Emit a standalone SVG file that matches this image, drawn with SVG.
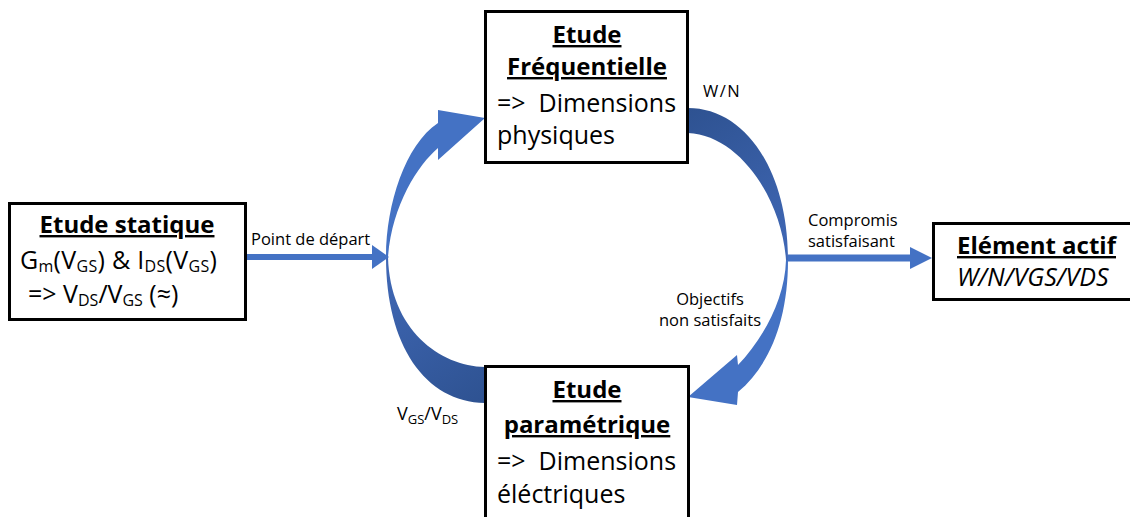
<svg xmlns="http://www.w3.org/2000/svg" width="1130" height="517" viewBox="0 0 1130 517">
<style>
.box{fill:#fff;stroke:#000;stroke-width:3}
.t{font-family:"Open Sans",Lato,"Liberation Sans",sans-serif;fill:#000}
.big{font-size:25px}
.b{font-size:24px;font-weight:bold;text-decoration:underline}
.lbl{font-size:16.5px}
.sub{font-size:16px}
.arr{fill:#4472C4}
</style>
<defs>
<linearGradient id="gL" gradientUnits="userSpaceOnUse" x1="386" y1="257" x2="485" y2="403">
<stop offset="0" stop-color="#4068B6"/><stop offset="1" stop-color="#2E5291"/>
</linearGradient>
<linearGradient id="gR" gradientUnits="userSpaceOnUse" x1="788" y1="260" x2="688" y2="108">
<stop offset="0" stop-color="#4068B6"/><stop offset="1" stop-color="#2E5291"/>
</linearGradient>
</defs>
<g id="connectors">
<path d="M386,257 C386,345 425,402 485,403 L485,367 C440,366 390,330 388,257 Z" fill="url(#gL)"/>
<path class="arr" d="M386,257 C386,205 405,145 438,123 L438,110 L485,118 L438,160 L438,148 C418,165 392,205 388,257 Z"/>
<path d="M688,108 C745,108 788,170 788,260 L786,260 C782,200 740,135 688,133 Z" fill="url(#gR)"/>
<path class="arr" d="M788,260 C788,320 770,365 738,392 L737,405 L688,397 L737,355 L738,365 C762,340 785,300 786,260 Z"/>
<line x1="247" y1="257" x2="374" y2="257" stroke="#4472C4" stroke-width="6"/>
<polygon class="arr" points="372,245 389,257 372,269"/>
<line x1="788" y1="258" x2="912" y2="258" stroke="#4472C4" stroke-width="7"/>
<polygon class="arr" points="910,247 932,258 910,269"/>
<text class="t lbl" x="251" y="245">Point de départ</text>
<text class="t lbl" x="703" y="97" letter-spacing="1.5">W/N</text>
<text class="t lbl" x="808" y="226">Compromis</text>
<text class="t lbl" x="808" y="247">satisfaisant</text>
<text class="t lbl" x="710" y="305" text-anchor="middle">Objectifs</text>
<text class="t lbl" x="710" y="326" text-anchor="middle">non satisfaits</text>
<text class="t" font-size="18" x="397" y="420">V<tspan font-size="13" dy="4">GS</tspan><tspan dy="-4">/V</tspan><tspan font-size="13" dy="4">DS</tspan></text>
</g>
<g id="statique">
<rect class="box" x="9.5" y="203.5" width="236" height="116"/>
<text class="t b" x="127" y="233" text-anchor="middle">Etude statique</text>
<text class="t big" x="20" y="269" letter-spacing="0.3">G<tspan class="sub" dy="3">m</tspan><tspan dy="-3">(V</tspan><tspan class="sub" dy="3">GS</tspan><tspan dy="-3">) &amp; I</tspan><tspan class="sub" dy="3">DS</tspan><tspan dy="-3">(V</tspan><tspan class="sub" dy="3">GS</tspan><tspan dy="-3">)</tspan></text>
<text class="t big" x="28" y="303">=&gt; V<tspan class="sub" dy="3">DS</tspan><tspan dy="-3">/V</tspan><tspan class="sub" dy="3">GS</tspan><tspan dy="-3"> (≈)</tspan></text>
</g>
<g id="frequentielle">
<rect class="box" x="485.5" y="11.5" width="202" height="151"/>
<text class="t b" x="587" y="43" text-anchor="middle">Etude</text>
<text class="t b" x="587" y="75" text-anchor="middle">Fréquentielle</text>
<text class="t big" x="497" y="112">=&gt;&#160; Dimensions</text>
<text class="t big" x="497" y="144">physiques</text>
</g>
<g id="parametrique">
<rect class="box" x="485.5" y="366.5" width="203" height="160"/>
<text class="t b" x="587" y="398" text-anchor="middle">Etude</text>
<text class="t b" x="587" y="433" text-anchor="middle">paramétrique</text>
<text class="t big" x="497" y="470">=&gt;&#160; Dimensions</text>
<text class="t big" x="497" y="503">éléctriques</text>
</g>
<g id="element">
<rect class="box" x="933.5" y="223.5" width="205" height="76"/>
<text class="t b" x="957" y="254">Elément actif</text>
<text class="t" font-size="25" x="957" y="286" font-style="italic">W/N/VGS/VDS</text>
</g>
</svg>
